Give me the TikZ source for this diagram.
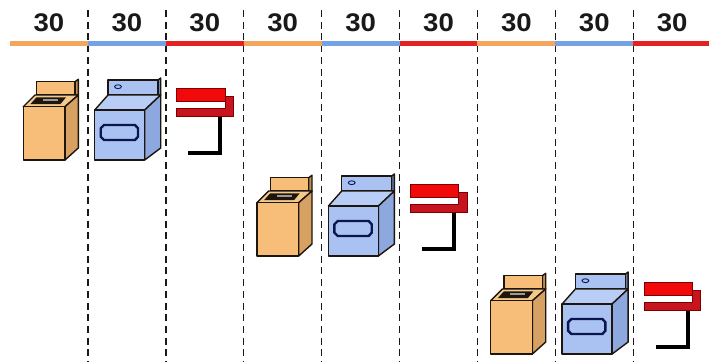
\documentclass[tikz,border=0pt]{standalone}
\usepackage{fontspec}
\setmainfont{Liberation Sans}
\begin{document}
\definecolor{barorange}{HTML}{F2A65E}
\definecolor{barblue}{HTML}{74A2E4}
\definecolor{barred}{HTML}{E42222}
\definecolor{wfront}{HTML}{F6BE78}
\definecolor{wtop}{HTML}{F4C98E}
\definecolor{wside}{HTML}{D6A163}
\definecolor{wpside}{HTML}{BF8E55}
\definecolor{dfront}{HTML}{A9C2F2}
\definecolor{dtop}{HTML}{B9CEF6}
\definecolor{dside}{HTML}{8CA8DE}
\definecolor{dpside}{HTML}{6F8CC6}
\definecolor{dwin}{HTML}{0B1650}
\definecolor{foldtop}{HTML}{F20A0A}
\definecolor{folddark}{HTML}{C8141E}
\definecolor{foldline}{HTML}{7A0000}
\definecolor{outl}{HTML}{1E160C}
\begin{tikzpicture}[x=1pt,y=-1pt,
  label30/.style={font=\fontsize{25.5}{26}\selectfont\bfseries, text=black!90, inner sep=0pt, anchor=base, xscale=1.08},
  slot/.style={draw=black!90, line width=1.4pt, dash pattern=on 7pt off 4.7pt},
  part/.style={draw=outl, line width=1.4pt, line join=round},
  washer/.pic={
    % back control panel
    \filldraw[part, fill=wpside] (75,81.7) -- (78.3,79.3) -- (78.3,95) -- (75,95) -- cycle;
    \filldraw[part, fill=wfront] (36.7,81.7) rectangle (75,95);
    % drum box
    \filldraw[part, fill=wtop] (23.3,106.7) -- (35,95) -- (78.3,95) -- (65,106.7) -- cycle;
    \filldraw[part, fill=wside] (65,106.7) -- (78.3,95) -- (78.3,148) -- (65,160) -- cycle;
    \filldraw[part, fill=wfront] (23.3,106.7) rectangle (65,160);
    % open lid
    \fill[outl] (30.5,104) -- (36.5,97.3) -- (66,97.3) -- (60.5,104) -- cycle;
    \fill[black!40] (43,98.6) rectangle (58,100.8);
  },
  dryer/.pic={
    % back control panel with knob
    \filldraw[part, fill=dpside] (158,80) -- (160.7,78) -- (160.7,95) -- (158,95) -- cycle;
    \filldraw[part, fill=dfront] (108,80) rectangle (158,95);
    \draw[dwin, line width=0.9pt] (118,86.7) ellipse [x radius=3.4, y radius=1.9];
    % cabinet
    \filldraw[part, fill=dtop] (94.7,110) -- (108,95) -- (160.7,95) -- (144.7,110) -- cycle;
    \filldraw[part, fill=dside] (144.7,110) -- (160.7,95) -- (160.7,148) -- (144.7,160) -- cycle;
    \filldraw[part, fill=dfront] (94.7,110) rectangle (144.7,160);
    % door window
    \filldraw[draw=dwin, line width=2.4pt, fill=dfront, line join=miter]
      (104,125) -- (135,125) -- (138,128.3) -- (138,136.7) -- (135,140)
      -- (104,140) -- (100.7,136.7) -- (100.7,128.3) -- cycle;
  },
  fold/.pic={
    % folded cloth: lower layer and its turned edge
    \filldraw[draw=foldline, line width=0.9pt, fill=folddark]
      (176.7,108.3) -- (225,108.3) -- (225,96.7) -- (233.3,96.7)
      -- (233.3,116.7) -- (176.7,116.7) -- cycle;
    \filldraw[draw=foldline, line width=0.9pt, fill=foldtop] (176.7,88.3) rectangle (225,101.7);
    % hanger
    \draw[black, line width=4pt, line join=miter] (220.3,116.7) -- (220.3,153) -- (188.3,153);
  }]
\useasboundingbox (0,0) rectangle (709,362);
\fill[white] (0,0) rectangle (709,362);

% column separators
\foreach \k in {1,...,9}
  \draw[slot] ({10+77.9*\k},10) -- ({10+77.9*\k},362);

% time bar with stage colours
\foreach \k/\c in {0/barorange,1/barblue,2/barred,3/barorange,4/barblue,5/barred,6/barorange,7/barblue,8/barred}
  \fill[\c] ({10+77.9*\k},40.6) rectangle ({10+77.9*(\k+1)},46.2);

% durations
\foreach \k in {0,...,8}
  \node[label30] (t\k) at ({49+77.9*\k},31.6) {30};

% three loads, each shifted by three stages
\foreach \i/\dx/\dy in {1/0/0, 2/233.7/96, 3/467.4/194} {
  \pic (wash\i) at (\dx,\dy) {washer};
  \pic (dry\i) at (\dx,\dy) {dryer};
  \pic (fold\i) at (\dx,\dy) {fold};
}
\end{tikzpicture}
\end{document}
